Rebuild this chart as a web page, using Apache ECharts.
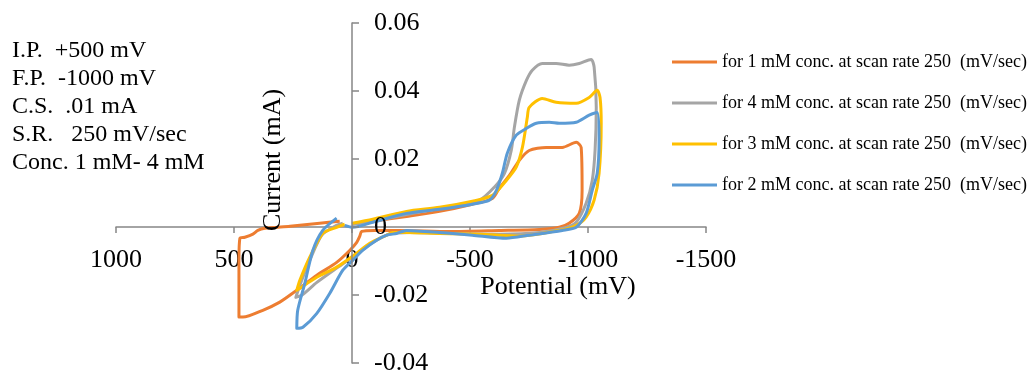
<!DOCTYPE html>
<html>
<head>
<meta charset="utf-8">
<script src="https://cdn.jsdelivr.net/npm/echarts@6/dist/echarts.min.js"></script>
<style>
  html, body { margin: 0; padding: 0; background: #fff; }
  #chart { width: 1029px; height: 371px; }
</style>
</head>
<body>
<div id="chart"></div>
<script>
  // potential (mV), current (mA) pairs
  const conc1mM = [
    [52, 0.0017], [137, 0.0011], [263, 0.0002], [369, -0.0004], [399, -0.0010], [420, -0.0021],
    [454, -0.0030], [475, -0.0033], [479, -0.0098], [479, -0.0265], [462, -0.0265], [378, -0.0245],
    [306, -0.0221], [234, -0.0186], [149, -0.0142], [65, -0.0104], [10, -0.0069], [-20, -0.0045],
    [-33, -0.0027], [-41, -0.0013], [-96, -0.0010], [-202, -0.0010], [-413, -0.0013], [-624, -0.0010],
    [-794, -0.0007], [-878, -0.0001], [-920, 0.0011], [-963, 0.0040], [-975, 0.0108], [-971, 0.0234],
    [-950, 0.0249], [-891, 0.0234], [-823, 0.0234], [-751, 0.0225], [-709, 0.0196], [-667, 0.0152],
    [-624, 0.0114], [-595, 0.0084], [-510, 0.0067], [-371, 0.0046], [-231, 0.0031], [-88, 0.0017],
    [0, 0.0008]
  ];
  const conc4mM = [
    [39, 0.0011], [73, 0.0002], [128, -0.0024], [179, -0.0098], [221, -0.0171], [238, -0.0207],
    [213, -0.0201], [149, -0.0163], [65, -0.0121], [-20, -0.0080], [-83, -0.0048], [-159, -0.0021],
    [-244, -0.0016], [-413, -0.0019], [-624, -0.0021], [-794, -0.0016], [-908, -0.0001], [-950, 0.0014],
    [-992, 0.0070], [-1018, 0.0137], [-1030, 0.0226], [-1035, 0.0352], [-1026, 0.0470], [-1013, 0.0493],
    [-963, 0.0481], [-920, 0.0476], [-865, 0.0481], [-806, 0.0481], [-764, 0.0461], [-739, 0.0431],
    [-709, 0.0373], [-688, 0.0293], [-675, 0.0226], [-646, 0.0158], [-603, 0.0117], [-540, 0.0079],
    [-371, 0.0055], [-231, 0.0037], [-88, 0.0017], [0, 0.0008]
  ];
  const conc3mM = [
    [31, 0.0008], [65, -0.0001], [124, -0.0019], [179, -0.0089], [221, -0.0157], [234, -0.0186],
    [221, -0.0180], [149, -0.0148], [65, -0.0118], [-20, -0.0077], [-75, -0.0048], [-147, -0.0024],
    [-172, -0.0016], [-231, -0.0016], [-371, -0.0019], [-540, -0.0021], [-709, -0.0027], [-878, -0.0010],
    [-950, 0.0005], [-992, 0.0029], [-1026, 0.0079], [-1047, 0.0158], [-1056, 0.0305], [-1051, 0.0381],
    [-1039, 0.0402], [-1005, 0.0381], [-950, 0.0364], [-865, 0.0367], [-806, 0.0378], [-751, 0.0352],
    [-743, 0.0323], [-722, 0.0234], [-696, 0.0176], [-654, 0.0137], [-595, 0.0093], [-510, 0.0076],
    [-371, 0.0058], [-231, 0.0046], [-88, 0.0023], [0, 0.0011]
  ];
  const conc2mM = [
    [65, 0.0026], [124, -0.0010], [166, -0.0069], [200, -0.0166], [230, -0.0245], [234, -0.0298],
    [208, -0.0295], [149, -0.0254], [94, -0.0195], [39, -0.0127], [-3, -0.0098], [-45, -0.0069],
    [-104, -0.0039], [-147, -0.0024], [-189, -0.0019], [-231, -0.0010], [-371, -0.0016], [-510, -0.0024],
    [-654, -0.0033], [-751, -0.0024], [-891, -0.0010], [-950, -0.0001], [-992, 0.0040], [-1018, 0.0108],
    [-1039, 0.0158], [-1047, 0.0255], [-1039, 0.0337], [-1005, 0.0329], [-950, 0.0308], [-878, 0.0305],
    [-836, 0.0308], [-781, 0.0305], [-739, 0.0290], [-696, 0.0270], [-658, 0.0217], [-637, 0.0158],
    [-612, 0.0108], [-582, 0.0079], [-510, 0.0067], [-371, 0.0052], [-231, 0.0040], [-88, 0.0014],
    [-3, -0.0001], [31, 0.0005]
  ];

  const seriesNames = [
    'for 1 mM conc. at scan rate 250  (mV/sec)',
    'for 4 mM conc. at scan rate 250  (mV/sec)',
    'for 3 mM conc. at scan rate 250  (mV/sec)',
    'for 2 mM conc. at scan rate 250  (mV/sec)'
  ];
  const seriesData = [conc1mM, conc4mM, conc3mM, conc2mM];
  const colors = ['#ED7D31', '#A5A5A5', '#FFC000', '#5B9BD5'];

  const xTicks = [1000, 500, 0, -500, -1000, -1500];
  const yTicks = [0.06, 0.04, 0.02, 0, -0.02, -0.04];

  const conditions = [
    'I.P.  +500 mV',
    'F.P.  -1000 mV',
    'C.S.  .01 mA',
    'S.R.   250 mV/sec',
    'Conc. 1 mM- 4 mM'
  ];

  const serif = '"Liberation Serif", "Times New Roman", serif';
  const gridLeft = 116, gridRight = 706, gridTop = 23, gridBottom = 363;
  const chart = echarts.init(document.getElementById('chart'));

  // axes cross at (0, 0): shift them off the grid edges by hand
  const xMin = Math.min(...xTicks), xMax = Math.max(...xTicks);
  const yMin = Math.min(...yTicks), yMax = Math.max(...yTicks);
  const yAxisOffset = -(gridRight - gridLeft) * (xMax - 0) / (xMax - xMin);
  const xAxisOffset = -(gridBottom - gridTop) * (0 - yMin) / (yMax - yMin);

  const option = {
    animation: false,
    color: colors,
    grid: {
      left: gridLeft,
      right: 1029 - gridRight,
      top: gridTop,
      bottom: 371 - gridBottom,
      containLabel: false,
      outerBoundsMode: 'none'
    },
    legend: {
      orient: 'vertical',
      left: 672,
      top: 53,
      padding: 0,
      itemWidth: 45,
      itemHeight: 3,
      itemGap: 23,
      icon: 'rect',
      textStyle: {fontFamily: serif, fontSize: 18, color: '#000', lineHeight: 18},
      data: seriesNames
    },
    xAxis: {
      type: 'value',
      inverse: true,
      min: xMin,
      max: xMax,
      interval: 500,
      offset: xAxisOffset,
      splitLine: {show: false},
      axisLine: {onZero: false, lineStyle: {color: '#868686', width: 1.5}},
      axisTick: {show: true, inside: false, length: 6, lineStyle: {color: '#868686', width: 1.5}},
      axisLabel: {fontFamily: serif, fontSize: 26, color: '#000', margin: 20, formatter: v => String(v)}
    },
    yAxis: {
      type: 'value',
      min: yMin,
      max: yMax,
      interval: 0.02,
      offset: yAxisOffset,
      z: 10,
      splitLine: {show: false},
      axisLine: {onZero: false, lineStyle: {color: '#868686', width: 1.5}},
      axisTick: {show: true, inside: true, length: 7, lineStyle: {color: '#868686', width: 1.5}},
      axisLabel: {inside: true, fontFamily: serif, fontSize: 26, color: '#000', margin: 22, formatter: v => String(v)}
    },
    graphic: [
      {
        type: 'text',
        x: 12,
        y: 37,
        style: {
          text: conditions.join('\n'),
          font: '24px ' + serif,
          lineHeight: 28,
          fill: '#000',
          align: 'left',
          verticalAlign: 'top'
        }
      },
      {
        type: 'text',
        x: 273,
        y: 160,
        z: 10,
        rotation: Math.PI / 2,
        style: {
          text: 'Current (mA)',
          font: '26px ' + serif,
          fill: '#000',
          align: 'center',
          verticalAlign: 'middle'
        }
      },
      {
        type: 'text',
        x: 558,
        y: 287,
        style: {
          text: 'Potential (mV)',
          font: '26px ' + serif,
          fill: '#000',
          align: 'center',
          verticalAlign: 'middle'
        }
      }
    ],
    series: seriesNames.map((name, i) => ({
      type: 'line',
      name: name,
      data: seriesData[i],
      showSymbol: false,
      smooth: 0.25,
      lineStyle: {width: 3, color: colors[i], join: 'round'},
      z: 2 + i
    }))
  };

  chart.setOption(option);
</script>
</body>
</html>
